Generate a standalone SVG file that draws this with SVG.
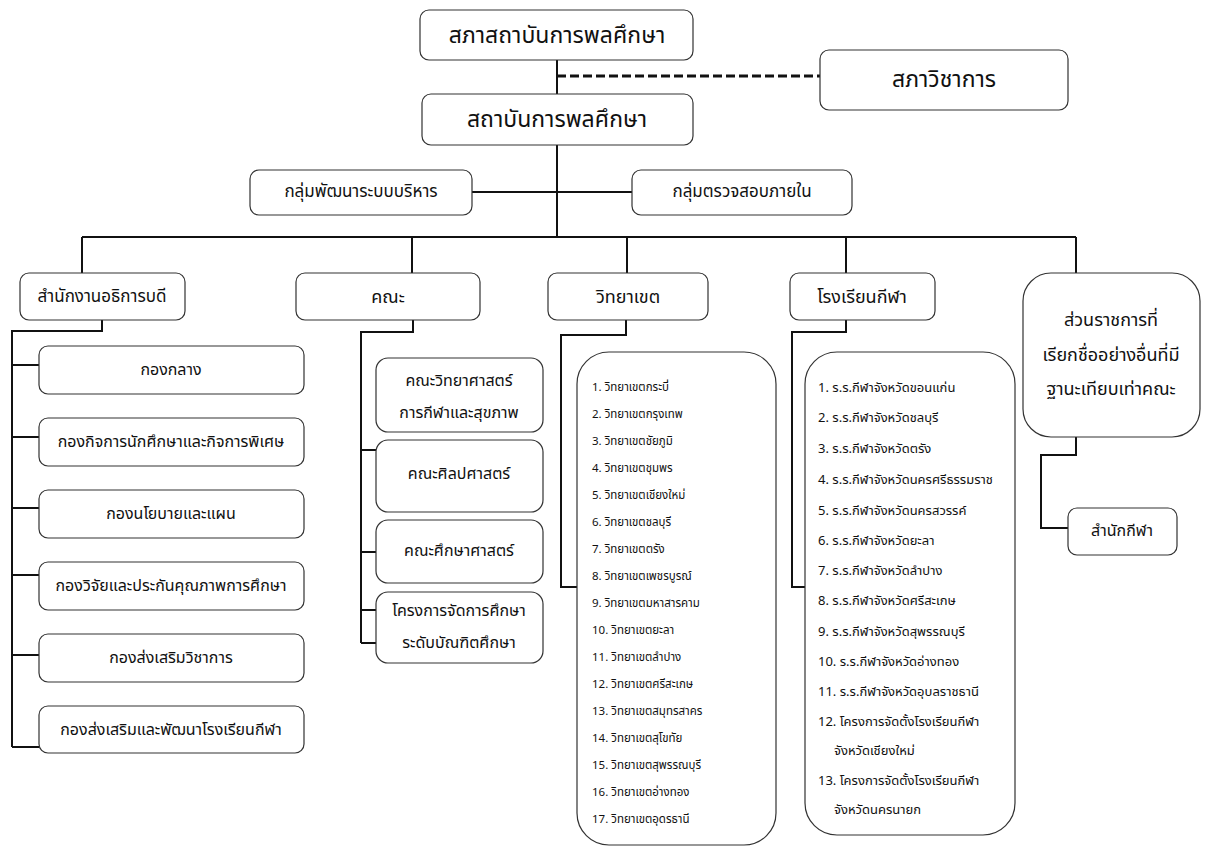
<svg xmlns="http://www.w3.org/2000/svg" width="1216" height="847" viewBox="0 0 1216 847">
<style>
text{font-family:"Noto Sans Thai","Noto Sans","DejaVu Sans",sans-serif;fill:#111;text-anchor:middle;dominant-baseline:central}
.b{fill:#fff;stroke:#333;stroke-width:1.2}
.c{fill:none;stroke:#111;stroke-width:2}
.t1{font-size:23px}
.t2{font-size:17px}
.t2b{font-size:18px}
.t3{font-size:16px}
.li{font-size:11.5px;text-anchor:start}
.ls{font-size:13px;text-anchor:start}
</style>
<rect width="1216" height="847" fill="#fff"/>
<g id="connectors">
<path class="c" d="M557,60V94M557,145V237M472,192H632M82,237H1076M82,237V273M412,237V273M627,237V273M846,237V273M1076,237V273"/>
<path d="M557,76H820" fill="none" stroke="#111" stroke-width="3" stroke-dasharray="9,4"/>
<path class="c" d="M102,320V331H12V747M12,365H39M12,437H39M12,508H39M12,575H39M12,655H39M12,747H39"/>
<path class="c" d="M413,320V332H361V643M361,450H376M361,552H376M361,610H376M361,643H376"/>
<path class="c" d="M626,320V335H561V587H577"/>
<path class="c" d="M846,320V332H792V587H805"/>
<path class="c" d="M1076,437V455H1041V528H1068"/>
</g>
<g id="n-council"><rect class="b" x="420" y="10" width="273" height="50" rx="9"/><text class="t1" x="557" y="36">สภาสถาบันการพลศึกษา</text></g>
<g id="n-academic"><rect class="b" x="820" y="50" width="248" height="60" rx="9"/><text class="t1" x="944" y="80">สภาวิชาการ</text></g>
<g id="n-institute"><rect class="b" x="422" y="94" width="271" height="51" rx="9"/><text class="t1" x="557" y="120">สถาบันการพลศึกษา</text></g>
<g id="n-admin-dev"><rect class="b" x="250" y="170" width="222" height="45" rx="9"/><text class="t2" x="361" y="192">กลุ่มพัฒนาระบบบริหาร</text></g>
<g id="n-audit"><rect class="b" x="632" y="170" width="220" height="45" rx="9"/><text class="t2" x="742" y="192">กลุ่มตรวจสอบภายใน</text></g>
<g id="n-president"><rect class="b" x="20" y="273" width="165" height="47" rx="9"/><text class="t2" x="102" y="297">สำนักงานอธิการบดี</text></g>
<g id="n-faculty"><rect class="b" x="296" y="273" width="184" height="47" rx="9"/><text class="t2b" x="388" y="297">คณะ</text></g>
<g id="n-campus"><rect class="b" x="548" y="273" width="160" height="47" rx="9"/><text class="t2b" x="628" y="297">วิทยาเขต</text></g>
<g id="n-school"><rect class="b" x="790" y="273" width="145" height="47" rx="9"/><text class="t2b" x="862" y="297">โรงเรียนกีฬา</text></g>
<g id="n-other"><rect class="b" x="1023" y="273" width="177" height="164" rx="28"/><text class="t2b" x="1111" y="320">ส่วนราชการที่</text><text class="t2b" x="1111" y="355">เรียกชื่ออย่างอื่นที่มี</text><text class="t2b" x="1111" y="389">ฐานะเทียบเท่าคณะ</text></g>
<g id="n-sport-office"><rect class="b" x="1068" y="508" width="109" height="47" rx="9"/><text class="t3" x="1122" y="531">สำนักกีฬา</text></g>
<g id="n-d1"><rect class="b" x="39" y="346" width="265" height="48" rx="9"/><text class="t3" x="171" y="370">กองกลาง</text></g>
<g id="n-d2"><rect class="b" x="39" y="418" width="265" height="48" rx="9"/><text class="t3" x="171" y="442">กองกิจการนักศึกษาและกิจการพิเศษ</text></g>
<g id="n-d3"><rect class="b" x="39" y="490" width="265" height="48" rx="9"/><text class="t3" x="171" y="514">กองนโยบายและแผน</text></g>
<g id="n-d4"><rect class="b" x="39" y="562" width="265" height="48" rx="9"/><text class="t3" x="171" y="586">กองวิจัยและประกันคุณภาพการศึกษา</text></g>
<g id="n-d5"><rect class="b" x="39" y="634" width="265" height="48" rx="9"/><text class="t3" x="171" y="658">กองส่งเสริมวิชาการ</text></g>
<g id="n-d6"><rect class="b" x="39" y="706" width="265" height="47" rx="9"/><text class="t3" x="171" y="730">กองส่งเสริมและพัฒนาโรงเรียนกีฬา</text></g>
<g id="n-f1"><rect class="b" x="376" y="358" width="167" height="74" rx="12"/><text class="t3" x="459" y="381">คณะวิทยาศาสตร์</text><text class="t3" x="459" y="413">การกีฬาและสุขภาพ</text></g>
<g id="n-f2"><rect class="b" x="376" y="440" width="167" height="72" rx="12"/><text class="t3" x="459" y="474">คณะศิลปศาสตร์</text></g>
<g id="n-f3"><rect class="b" x="376" y="520" width="167" height="63" rx="12"/><text class="t3" x="459" y="551">คณะศึกษาศาสตร์</text></g>
<g id="n-f4"><rect class="b" x="376" y="592" width="167" height="71" rx="12"/><text class="t3" x="459" y="611">โครงการจัดการศึกษา</text><text class="t3" x="459" y="643">ระดับบัณฑิตศึกษา</text></g>
<g id="n-campus-list"><rect class="b" x="577" y="352" width="199" height="493" rx="32"/>
<text class="li" x="592" y="387">1. วิทยาเขตกระบี่</text>
<text class="li" x="592" y="414">2. วิทยาเขตกรุงเทพ</text>
<text class="li" x="592" y="441">3. วิทยาเขตชัยภูมิ</text>
<text class="li" x="592" y="468">4. วิทยาเขตชุมพร</text>
<text class="li" x="592" y="495">5. วิทยาเขตเชียงใหม่</text>
<text class="li" x="592" y="522">6. วิทยาเขตชลบุรี</text>
<text class="li" x="592" y="549">7. วิทยาเขตตรัง</text>
<text class="li" x="592" y="576">8. วิทยาเขตเพชรบูรณ์</text>
<text class="li" x="592" y="603">9. วิทยาเขตมหาสารคาม</text>
<text class="li" x="592" y="630">10. วิทยาเขตยะลา</text>
<text class="li" x="592" y="657">11. วิทยาเขตลำปาง</text>
<text class="li" x="592" y="684">12. วิทยาเขตศรีสะเกษ</text>
<text class="li" x="592" y="711">13. วิทยาเขตสมุทรสาคร</text>
<text class="li" x="592" y="738">14. วิทยาเขตสุโขทัย</text>
<text class="li" x="592" y="765">15. วิทยาเขตสุพรรณบุรี</text>
<text class="li" x="592" y="792">16. วิทยาเขตอ่างทอง</text>
<text class="li" x="592" y="819">17. วิทยาเขตอุดรธานี</text>
</g>
<g id="n-school-list"><rect class="b" x="805" y="352" width="210" height="483" rx="32"/>
<text class="ls" x="818" y="388">1. ร.ร.กีฬาจังหวัดขอนแก่น</text>
<text class="ls" x="818" y="418">2. ร.ร.กีฬาจังหวัดชลบุรี</text>
<text class="ls" x="818" y="449">3. ร.ร.กีฬาจังหวัดตรัง</text>
<text class="ls" x="818" y="480">4. ร.ร.กีฬาจังหวัดนครศรีธรรมราช</text>
<text class="ls" x="818" y="511">5. ร.ร.กีฬาจังหวัดนครสวรรค์</text>
<text class="ls" x="818" y="541">6. ร.ร.กีฬาจังหวัดยะลา</text>
<text class="ls" x="818" y="571">7. ร.ร.กีฬาจังหวัดลำปาง</text>
<text class="ls" x="818" y="601">8. ร.ร.กีฬาจังหวัดศรีสะเกษ</text>
<text class="ls" x="818" y="632">9. ร.ร.กีฬาจังหวัดสุพรรณบุรี</text>
<text class="ls" x="818" y="662">10.  ร.ร.กีฬาจังหวัดอ่างทอง</text>
<text class="ls" x="818" y="692">11.  ร.ร.กีฬาจังหวัดอุบลราชธานี</text>
<text class="ls" x="818" y="722">12. โครงการจัดตั้งโรงเรียนกีฬา</text>
<text class="ls" x="834" y="751">จังหวัดเชียงใหม่</text>
<text class="ls" x="818" y="781">13. โครงการจัดตั้งโรงเรียนกีฬา</text>
<text class="ls" x="834" y="810">จังหวัดนครนายก</text>
</g>
</svg>
